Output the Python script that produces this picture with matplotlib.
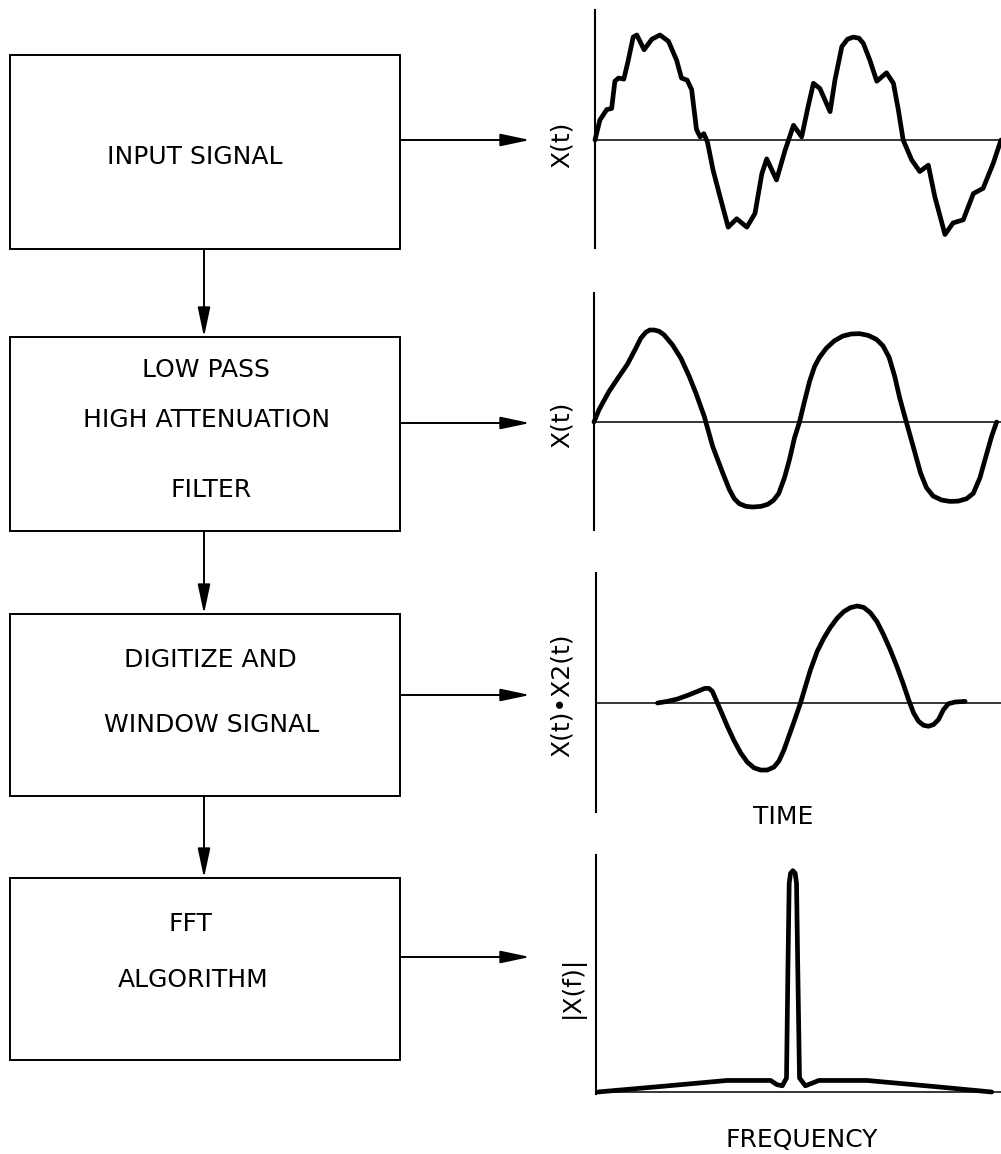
import matplotlib.pyplot as plt
from matplotlib.patches import Rectangle

W, H = 1001, 1154

# ------------------------------------------------------------
# Signals (time 0..100, amplitude ~ -1..1)
# ------------------------------------------------------------
t_input = [0, 1.2, 2.9, 4.1, 4.9, 5.8, 7.1, 8.2, 9.4, 10.3, 12.1, 14.0, 16.0, 18.1,
           20.1, 21.3, 22.7, 23.8, 25.0, 25.9, 26.8, 27.7, 29.1, 30.8, 32.8, 34.9,
           37.4, 39.4, 41.1, 42.3, 44.7, 46.8, 48.9, 50.9, 52.5, 53.8, 55.4, 57.9,
           59.1, 60.8, 62.2, 63.6, 65.0, 66.1, 67.7, 69.4, 71.8, 73.5, 74.7, 75.9,
           78.0, 80.0, 82.1, 83.7, 86.2, 88.2, 90.7, 93.2, 95.6, 98.1, 100]
x_input = [0, 0.19, 0.29, 0.30, 0.56, 0.59, 0.58, 0.76, 0.98, 1.0, 0.86, 0.96, 1.0, 0.94,
           0.76, 0.59, 0.57, 0.48, 0.10, 0.03, 0.06, -0.02, -0.29, -0.54, -0.83, -0.75,
           -0.83, -0.70, -0.32, -0.18, -0.38, -0.10, 0.14, 0.03, 0.32, 0.54, 0.49, 0.27,
           0.57, 0.89, 0.96, 0.98, 0.97, 0.92, 0.76, 0.56, 0.64, 0.54, 0.29, 0.0,
           -0.19, -0.30, -0.24, -0.54, -0.90, -0.79, -0.76, -0.51, -0.46, -0.22, 0]

t_filtered = [0.0, 1.23, 3.69, 6.16, 8.21, 10.26, 11.49, 12.73, 13.71, 14.78, 16.01,
              17.24, 19.29, 21.35, 23.40, 25.04, 27.09, 29.15, 31.61, 33.25, 34.48,
              35.71, 37.36, 39.00, 41.05, 42.69, 44.09, 45.40, 46.80, 48.03, 49.26,
              50.49, 51.72, 52.96, 54.19, 55.42, 57.06, 59.11, 61.17, 63.22, 65.27,
              67.32, 69.38, 71.02, 72.50, 73.89, 75.12, 76.35, 78.41, 80.21, 81.69,
              83.33, 85.39, 87.44, 89.49, 91.54, 93.19, 94.83, 96.31, 97.70, 98.93]
x_filtered = [0, 0.134, 0.332, 0.495, 0.628, 0.801, 0.910, 0.975, 1.0, 1.0, 0.986,
              0.946, 0.838, 0.693, 0.495, 0.314, 0.061, -0.264, -0.552, -0.733, -0.834,
              -0.888, -0.917, -0.924, -0.917, -0.895, -0.852, -0.776, -0.606, -0.408,
              -0.173, 0, 0.224, 0.440, 0.603, 0.704, 0.801, 0.884, 0.935, 0.957, 0.960,
              0.942, 0.899, 0.827, 0.704, 0.495, 0.260, 0.061, -0.264, -0.552, -0.715,
              -0.805, -0.848, -0.863, -0.860, -0.834, -0.776, -0.606, -0.372, -0.155, 0]

t_windowed = [15.19, 17.65, 20.11, 22.58, 25.04, 26.85, 27.91, 28.74, 29.97, 31.20,
              32.43, 34.07, 35.71, 37.36, 39.00, 40.64, 42.28, 43.92, 45.16, 46.39,
              47.62, 48.85, 50.49, 51.72, 52.96, 54.60, 56.24, 57.88, 59.52, 61.17,
              62.81, 64.45, 66.09, 67.73, 69.38, 71.02, 72.66, 74.30, 75.94, 77.18,
              78.41, 79.64, 80.87, 82.10, 83.33, 84.56, 85.80, 87.03, 88.67, 91.13]
x_windowed = [0, 0.017, 0.041, 0.078, 0.119, 0.150, 0.150, 0.119, 0, -0.119,
              -0.239, -0.386, -0.512, -0.608, -0.666, -0.689, -0.689, -0.659, -0.597,
              -0.485, -0.341, -0.198, 0, 0.171, 0.341, 0.529, 0.666, 0.778, 0.870,
              0.939, 0.980, 0.997, 0.983, 0.928, 0.836, 0.700, 0.546, 0.375, 0.188,
              0.034, -0.102, -0.188, -0.229, -0.239, -0.222, -0.171, -0.068, -0.007,
              0.010, 0.017]

f_spec = [0.4, 16.0, 32.4, 43.1, 44.7, 46.0, 47.04, 47.37, 47.70, 48.03, 48.60, 49.18,
          49.51, 49.84, 50.25, 51.7, 53.4, 55.0, 66.9, 83.3, 97.7]
mag_spec = [0, 0.025, 0.052, 0.052, 0.033, 0.028, 0.063, 0.535, 0.940, 0.985, 0.997,
            0.985, 0.940, 0.535, 0.063, 0.028, 0.04, 0.052, 0.052, 0.025, 0]

box_lines = [['INPUT SIGNAL'],
             ['LOW PASS', 'HIGH ATTENUATION', 'FILTER'],
             ['DIGITIZE AND', 'WINDOW SIGNAL'],
             ['FFT', 'ALGORITHM']]

# ------------------------------------------------------------
fig = plt.figure(figsize=(W / 100, H / 100), dpi=100)
fig.patch.set_facecolor('white')

ax = fig.add_axes([0, 0, 1, 1])
ax.set_xlim(0, W)
ax.set_ylim(H, 0)
ax.axis('off')

font = dict(family='DejaVu Sans', fontsize=18, color='black')

# boxes: (top, bottom), text line centres (x, y)
boxes = [(55, 249), (337, 531), (614, 796), (878, 1060)]
text_pos = [[(195, 155)],
            [(206, 368), (207, 418), (211, 488)],
            [(210, 658), (212, 723)],
            [(190, 922), (193, 978)]]
arrow_y = [140, 423, 695, 957]
arrow = dict(arrowstyle='-|>,head_length=1.8,head_width=0.38',
             mutation_scale=10, lw=1.4, color='black', shrinkA=0, shrinkB=0)

for (top, bot), lines, pos, ay in zip(boxes, box_lines, text_pos, arrow_y):
    ax.add_patch(Rectangle((10, top), 390, bot - top, fill=False, lw=1.4, ec='black'))
    for s, (tx, ty) in zip(lines, pos):
        ax.text(tx, ty + 9, s, ha='center', va='baseline', **font)
    ax.annotate('', xy=(530, ay), xytext=(400, ay), arrowprops=arrow)

for i in range(3):
    ax.annotate('', xy=(204, boxes[i + 1][0]), xytext=(204, boxes[i][1]),
                arrowprops=arrow)


def panel(x0, ytop, ybot, y0, unit):
    a = fig.add_axes([x0 / W, 1 - ybot / H, (W - x0) / W, (ybot - ytop) / H])
    a.set_xlim(0, 100)
    a.set_ylim(-(ybot - y0) / unit, (y0 - ytop) / unit)
    a.patch.set_alpha(0)
    for side in ['top', 'right', 'bottom']:
        a.spines[side].set_visible(False)
    a.spines['left'].set_linewidth(1.5)
    a.set_xticks([])
    a.set_yticks([])
    a.axhline(0, color='black', lw=1.1)
    return a


curve = dict(color='black', lw=3.4, solid_joinstyle='round',
             solid_capstyle='round', clip_on=False)

p1 = panel(595, 10, 248, 140, 105)
p1.plot(t_input, x_input, **curve)

p2 = panel(594, 293, 530, 422, 92)
p2.plot(t_filtered, x_filtered, **curve)

p3 = panel(596, 573, 812, 703, 97.3)
p3.plot(t_windowed, x_windowed, **curve)

p4 = panel(596, 855, 1094, 1092, 222)
p4.plot(f_spec, mag_spec, **curve)

ax.text(562, 145, 'X(t)', rotation=90, ha='center', va='center', **font)
ax.text(562, 425, 'X(t)', rotation=90, ha='center', va='center', **font)
ax.text(562, 695, 'X(t)\u2022X2(t)', rotation=90, ha='center', va='center', **font)
ax.text(572, 987, '|X(f)|', rotation=90, ha='center', va='center', **font)
ax.text(783, 817, 'TIME', ha='center', va='center', **font)
ax.text(802, 1140, 'FREQUENCY', ha='center', va='center', **font)

fig.savefig('out.png', dpi=100, facecolor='white')
